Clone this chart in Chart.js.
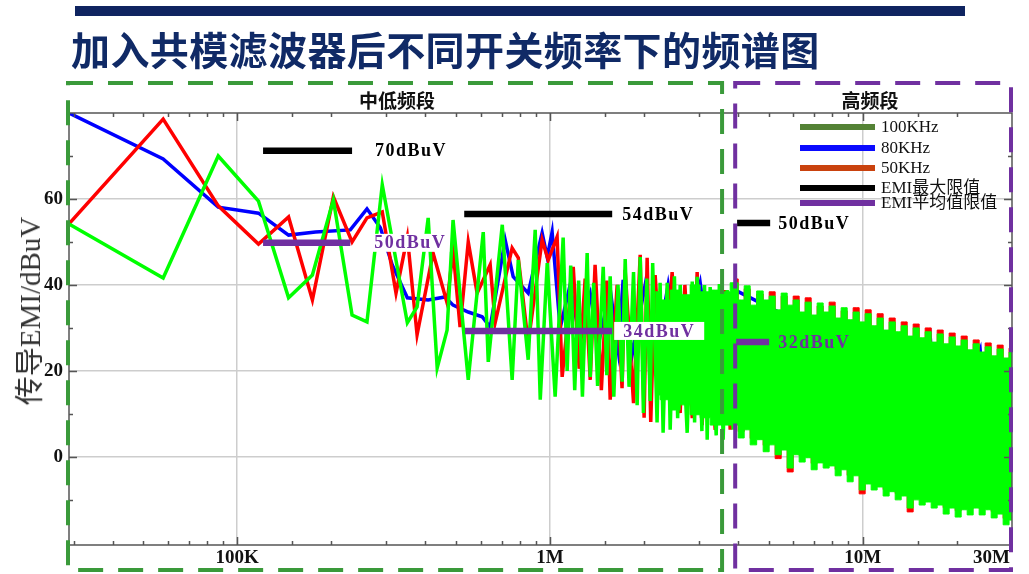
<!DOCTYPE html>
<html lang="zh-CN">
<head>
<meta charset="utf-8">
<title>加入共模滤波器后不同开关频率下的频谱图</title>
<script src="https://cdn.jsdelivr.net/npm/chart.js@4.4.1/dist/chart.umd.min.js"></script>
<style>
  html, body { margin:0; padding:0; background:#fff; }
  body { position:relative; width:1029px; height:574px; overflow:hidden; }
  #c { position:absolute; left:0; top:0; }
  .topbar { position:absolute; left:75px; top:6px; width:890px; height:10px; background:#0f2460; }
  h1 { position:absolute; left:71px; top:26px; margin:0; font:700 39px "Noto Sans CJK SC", sans-serif; line-height:44px; letter-spacing:0.4px; color:#102a66; white-space:nowrap; }
  .seg { position:absolute; top:88px; font:600 19px "Noto Sans CJK SC", sans-serif; line-height:24px; color:#111; transform:translateX(-50%); white-space:nowrap; }
  .ytitle { position:absolute; left:30px; top:311px; transform:translate(-50%,-50%) rotate(-90deg); font:29px "Liberation Serif", "Noto Sans CJK SC", serif; line-height:30px; color:#333; white-space:nowrap; }
  #legend { position:absolute; left:800px; top:0; font:17px "Liberation Serif", "Noto Sans CJK SC", serif; color:#111; }
  #legend div { position:absolute; left:0; height:20px; line-height:20px; white-space:nowrap; }
  #legend i { position:absolute; left:0; top:7px; width:75px; height:6px; }
  #legend span { position:absolute; left:81px; top:0; }
</style>
</head>
<body>
<canvas id="c" width="1029" height="574"></canvas>
<div class="topbar"></div>
<h1>加入共模滤波器后不同开关频率下的频谱图</h1>
<div class="seg" style="left:397px">中低频段</div>
<div class="seg" style="left:870px">高频段</div>
<div class="ytitle">传导EMI/dBuV</div>
<div id="legend"></div>
<script>
// 频率单位 kHz，幅值单位 dBuV
const blueFreq = [29.0, 58, 87, 117, 146, 178, 230, 260, 287, 313, 350, 408, 462, 490, 548, 607, 644, 719, 763, 852,
  944, 980, 1016, 1078, 1160, 1231, 1345, 1426, 1558, 1652, 1714, 1831, 2015, 2169, 2387, 2608, 3022, 3300, 3910, 5444,
  5861, 7866, 8469, 11366, 12235, 16427, 17682, 23735, 25552, 30000];
const blueDb = [80.0, 69.3, 58.1, 56.7, 51.6, 52.3, 52.8, 57.7, 53.3, 44.7, 37.0, 36.5, 37.2, 35.3, 33.7, 32.6, 30.2, 50.5, 41.9, 38.1,
  52.1, 46.5, 52.3, 30.0, 40.0, 29.5, 38.0, 26.0, 39.0, 24.9, 41.2, 23.7, 40.0, 22.6, 40.0, 21.4, 40.5, 20.2, 38.8, 33.5,
  8.6, 32.5, 4.0, 31.0, -0.7, 28.0, -2.9, 24.8, -5.3, 23.0];

const redFreq = [29.0, 58, 87, 117, 146, 174, 203, 233, 260, 291, 322, 350, 376, 423, 469, 490, 516, 548, 585, 644,
  668, 757, 792, 852, 944, 987, 1054, 1094, 1187, 1240, 1296, 1345, 1394, 1460, 1520, 1558, 1640, 1700, 1739, 1850,
  1943, 2000, 2045, 2100, 2169, 2301, 2458, 2608, 2700, 2850, 2955, 3066, 3182, 3375, 3632, 3769, 3910];
const redDb = [54.2, 78.6, 58.4, 49.5, 55.8, 36.5, 60.5, 50.0, 55.6, 57.0, 38.1, 51.2, 28.4, 47.4, 35.8, 48.1, 30.2, 50.0, 38.1, 44.7,
  31.2, 48.6, 46.3, 26.5, 50.5, 45.8, 51.2, 18.6, 44.2, 20.5, 41.5, 17.9, 44.7, 15.5, 41.0, 13.3, 40.0, 16.0, 43.5, 12.5,
  47.0, 9.1, 46.3, 8.1, 42.3, 13.3, 43.0, 10.2, 40.0, 9.0, 43.0, 7.4, 36.5, 6.3, 38.8, 6.3, 40.5];

const greenFreq = [29.0, 58, 87, 117, 146, 174, 203, 233, 260, 291, 350, 376, 408, 436, 469, 490, 548, 612, 635, 704,
  757, 792, 852, 897, 931, 980, 1039, 1102, 1135, 1165, 1200, 1235, 1270, 1315, 1345, 1380, 1420, 1480, 1520, 1558,
  1600, 1650, 1702, 1740, 1790, 1850, 1900, 1943, 1990, 2040, 2091, 2130, 2200, 2250, 2300, 2370, 2423, 2500, 2560, 2608,
  2746, 2850, 2900, 2955, 3060, 3120, 3182, 3252, 3400, 3480, 3579, 3686, 3852];
const greenDb = [54.2, 41.6, 70.0, 59.5, 37.0, 42.3, 59.8, 33.0, 31.4, 63.3, 31.2, 34.9, 55.6, 20.7, 29.5, 55.1, 17.9, 52.3, 22.1, 54.0,
  17.9, 45.8, 22.6, 52.8, 13.3, 45.1, 14.0, 51.0, 20.0, 44.5, 15.5, 41.0, 14.0, 47.4, 18.6, 40.5, 16.5, 44.2, 19.0, 42.0,
  14.0, 40.0, 17.5, 46.0, 16.3, 43.0, 12.0, 46.5, 10.2, 41.5, 13.0, 45.1, 8.0, 40.5, 5.6, 40.5, 6.3, 42.0, 9.0, 40.0,
  5.6, 40.8, 8.0, 41.9, 6.0, 40.0, 4.0, 39.5, 5.0, 40.2, 4.0, 38.8, 6.3];

// 高频段谐波太密，按上下包络读取
const denseFreq = [2169, 2335, 2514, 2705, 2912, 3134, 3375, 3632, 3910, 4088, 4270, 4463, 4699, 4912, 5133, 5365, 5608, 5861,
  6125, 6402, 6691, 6993, 7309, 7638, 7983, 8344, 8721, 9115, 9526, 9956, 10406, 10875, 11366, 11879, 12416, 12981,
  13566, 14175, 14817, 15486, 16186, 16917, 17682, 18478, 19312, 20184, 21099, 22052, 23044, 24085, 25175, 26310,
  27495, 28731, 30000];
const greenTopDb = [38.4, 36.5, 38.8, 37.7, 40.0, 38.4, 38.8, 38.4,
  40.5, 36.5, 39.8, 35.3, 38.6, 36.5, 37.4, 34.2, 38.1, 35.3, 36.5, 33.7, 36.0, 33.0, 35.8, 33.7, 35.1, 32.3, 34.7, 31.9,
  33.7, 31.4, 33.3, 30.5, 32.3, 29.5, 31.4, 29.1, 30.5, 28.1, 30.0, 27.7, 29.1, 26.7, 28.6, 26.3, 27.9, 25.8, 27.2, 24.9,
  26.3, 24.4, 25.6, 23.5, 25.1, 23.0, 24.4];
const greenBottomDb = [14.4, 13.3, 10.9, 12.1, 9.8, 9.1, 7.4, 7.4,
  7.4, 4.4, 6.3, 2.8, 4.0, 1.2, 2.8, 0.5, 1.6, -2.6, 0.5, -1.2, -0.2, -3.0, -1.4, -2.6, -2.1, -4.4, -3.0, -5.8,
  -4.4, -7.7, -6.3, -7.7, -7.0, -9.1, -8.1, -10.0, -9.1, -11.9, -10.0, -11.2, -10.5, -11.9, -11.2, -13.3, -11.9, -14.0,
  -12.3, -13.5, -11.9, -13.5, -12.3, -14.2, -13.3, -15.8, -14.7];
const redTopDb = [41.4, 36.0, 39.1, 34.9, 37.9, 36.0, 38.4, 33.7, 37.4, 34.9, 37.4, 33.3, 37.0, 32.6, 35.1, 33.3, 36.0, 31.9,
  34.0, 31.4, 34.7, 30.9, 34.2, 30.0, 33.3, 29.1, 32.3, 28.6, 31.4, 27.7, 30.9, 27.2, 30.0, 26.3, 29.5, 25.8, 28.8, 25.3,
  28.1, 24.4, 27.2, 24.0, 26.5, 23.0, 26.0, 22.6, 25.3];
const redBottomDb = [8.9, 5.9, 7.8, 4.3, 5.5, 2.7, 4.3, -0.4, 3.1, -3.5, 2.0, 0.3, 1.3, -1.5, 0.1, -1.1, -0.6, -2.9,
  -1.5, -4.3, -2.9, -8.6, -4.8, -6.2, -5.5, -7.6, -6.6, -8.5, -7.6, -12.8, -8.5, -9.7, -9.0, -10.4, -9.7, -11.8, -10.4,
  -12.5, -10.8, -12.0, -10.4, -12.0, -10.8, -12.7, -11.8, -14.3, -13.2];

// 限值线段
const maxLimitFrom = [121, 532, 3965];
const maxLimitTo = [233, 1581, 5058];
const maxLimitDb = [71.2, 56.5, 54.4];
const maxLimitText = ['70dBuV', '54dBuV', '50dBuV'];
const avgLimitFrom = [121, 535, 3937];
const avgLimitTo = [230, 1581, 5020];
const avgLimitDb = [49.8, 29.3, 26.7];
const avgLimitText = ['50dBuV', '34dBuV', '32dBuV'];

const xTickAt = [100, 1000, 10000, 30000];
const xTickText = ['100K', '1M', '10M', '30M'];
const yTickAt = [-20, 0, 20, 40, 60];
const bandEdge = [3550, 3910]; // 中低频段结束 / 高频段开始

const legendText = ['100KHz', '80KHz', '50KHz', 'EMI最大限值', 'EMI平均值限值'];
const legendColor = ['#548235', '#0a0aff', '#c9420e', '#000000', '#7030a0'];

const GREEN = '#00ff00', RED = '#ff0000', BLUE = '#0000ff', BLACK = '#000000', PURPLE = '#7030a0';

// legend (html)
const legendRowY = [127, 148, 168, 188, 203];
document.getElementById('legend').innerHTML = legendText.map((t, i) =>
  `<div style="top:${legendRowY[i] - 10}px"><i style="background:${legendColor[i]}"></i><span>${t}</span></div>`).join('');

const pts = (xs, ys) => xs.map((x, i) => ({x, y: ys[i]}));
const series = (data, color, order, extra = {}) => ({
  data, borderColor: color, backgroundColor: color, borderWidth: 3.5, pointRadius: 0,
  fill: false, tension: 0, order, ...extra
});

const datasets = [];
maxLimitDb.forEach((v, i) => datasets.push(series(pts([maxLimitFrom[i], maxLimitTo[i]], [v, v]), BLACK, 0, {borderWidth: 6.5, borderCapStyle: 'butt'})));
avgLimitDb.forEach((v, i) => datasets.push(series(pts([avgLimitFrom[i], avgLimitTo[i]], [v, v]), PURPLE, 0, {borderWidth: 6.5, borderCapStyle: 'butt'})));
datasets.push(series(pts(greenFreq, greenDb), GREEN, 1));
datasets.push(series(pts(denseFreq, greenTopDb), GREEN, 1, {borderWidth: 1, stepped: 'middle', fill: '+1'}));
datasets.push(series(pts(denseFreq, greenBottomDb), GREEN, 1, {borderWidth: 1, stepped: 'middle'}));
datasets.push(series(pts(redFreq, redDb), RED, 2));
datasets.push(series(pts(denseFreq.slice(8), redTopDb), RED, 2, {borderWidth: 1, stepped: 'middle', fill: '+1'}));
datasets.push(series(pts(denseFreq.slice(8), redBottomDb), RED, 2, {borderWidth: 1, stepped: 'middle'}));
datasets.push(series(pts(blueFreq, blueDb), BLUE, 3));

// label gap after the segment end, inner padding, white box
const maxLabelGap = [23, 10, 8];
const avgLabelGap = [21, 2, 9];
const avgLabelPad = [3, 9, 0];
const avgLabelBox = [true, true, false];

const limitLabels = {
  id: 'limitLabels',
  afterDatasetsDraw(chart) {
    const {ctx, scales: {x, y}} = chart;
    ctx.save();
    ctx.font = 'bold 18px "Liberation Serif", serif';
    ctx.letterSpacing = '1.5px';
    ctx.textBaseline = 'middle';
    const put = (text, to, db, gap, pad, box, color) => {
      const px = x.getPixelForValue(to) + gap;
      const py = y.getPixelForValue(db);
      const w = ctx.measureText(text).width;
      if (box) { ctx.fillStyle = '#fff'; ctx.fillRect(px, py - 9, w + pad * 2, 18); }
      ctx.fillStyle = color;
      ctx.fillText(text, px + pad, py + 1);
    };
    maxLimitText.forEach((t, i) => put(t, maxLimitTo[i], maxLimitDb[i], maxLabelGap[i], 0, false, BLACK));
    avgLimitText.forEach((t, i) => put(t, avgLimitTo[i], avgLimitDb[i], avgLabelGap[i], avgLabelPad[i], avgLabelBox[i], PURPLE));
    ctx.restore();
  }
};

const tickFont = {family: '"Liberation Serif", serif', size: 19, weight: 'bold'};

const frame = {
  id: 'frame',
  afterDraw(chart) {
    const {ctx, chartArea: a, scales: {x, y}} = chart;
    ctx.save();
    ctx.strokeStyle = '#555';
    ctx.lineWidth = 1.5;
    ctx.strokeRect(a.left, a.top, a.right - a.left, a.bottom - a.top);
    ctx.beginPath();
    x.ticks.forEach(t => {
      if (t.value <= x.min || t.value >= x.max) return;
      const px = Math.round(x.getPixelForValue(t.value)) + 0.5;
      const len = xTickAt.includes(t.value) ? 8 : 4;
      ctx.moveTo(px, a.bottom); ctx.lineTo(px, a.bottom - len);
      ctx.moveTo(px, a.top); ctx.lineTo(px, a.top + len);
    });
    y.ticks.forEach(t => {
      if (t.value % 10 !== 0 || t.value <= y.min || t.value >= y.max) return;
      const py = Math.round(y.getPixelForValue(t.value)) + 0.5;
      const len = t.value % 20 === 0 ? 8 : 4;
      ctx.moveTo(a.left, py); ctx.lineTo(a.left + len, py);
      ctx.moveTo(a.right, py); ctx.lineTo(a.right - len, py);
    });
    ctx.stroke();

    // last x label sits inside the frame edge
    ctx.font = `bold ${tickFont.size}px ${tickFont.family}`;
    ctx.fillStyle = '#111';
    ctx.textAlign = 'right';
    ctx.textBaseline = 'middle';
    ctx.fillText(xTickText[xTickText.length - 1], x.getPixelForValue(xTickAt[xTickAt.length - 1]) - 2, a.bottom + 13);

    // 频段虚线框
    const top = a.top - 30, bottom = a.bottom + 25;
    ctx.lineWidth = 4;
    ctx.setLineDash([25, 15]);
    ctx.strokeStyle = '#3a9a3a';
    const gx = x.getPixelForValue(bandEdge[0]);
    ctx.strokeRect(a.left - 1, top, gx - a.left + 1, bottom - top);
    ctx.strokeStyle = PURPLE;
    const px = x.getPixelForValue(bandEdge[1]);
    ctx.strokeRect(px, top, a.right - 1 - px, bottom - top);
    ctx.restore();
  }
};

new Chart(document.getElementById('c'), {
  type: 'line',
  data: {datasets},
  options: {
    responsive: false,
    animation: false,
    devicePixelRatio: 1,
    events: [],
    layout: {padding: {top: 113, right: 17, bottom: 0, left: 0}},
    plugins: {legend: {display: false}, tooltip: {enabled: false}},
    scales: {
      x: {
        type: 'logarithmic',
        min: 29, max: 30000,
        border: {display: false},
        grid: {
          drawTicks: false, lineWidth: 1.5,
          color: c => (c.tick && [100, 1000, 10000].includes(c.tick.value)) ? '#cdcdcd' : 'rgba(0,0,0,0)'
        },
        ticks: {
          autoSkip: false, maxRotation: 0, minRotation: 0, padding: 2,
          font: tickFont, color: '#111',
          callback: v => { const i = xTickAt.indexOf(v); return (i < 0 || i === xTickAt.length - 1) ? '' : xTickText[i]; }
        },
        afterFit: s => { s.height = 29; s.paddingLeft = 0; s.paddingRight = 0; }
      },
      y: {
        min: -20.5, max: 80,
        border: {display: false},
        grid: {
          drawTicks: false, lineWidth: 1.5,
          color: c => (c.tick && yTickAt.includes(c.tick.value)) ? '#cdcdcd' : 'rgba(0,0,0,0)'
        },
        ticks: {
          stepSize: 10, autoSkip: false, padding: 6,
          font: tickFont, color: '#111',
          callback: v => yTickAt.includes(v) ? String(v) : ''
        },
        afterFit: s => { s.width = 69; s.paddingTop = 0; s.paddingBottom = 0; }
      }
    }
  },
  plugins: [limitLabels, frame]
});
</script>
</body>
</html>
